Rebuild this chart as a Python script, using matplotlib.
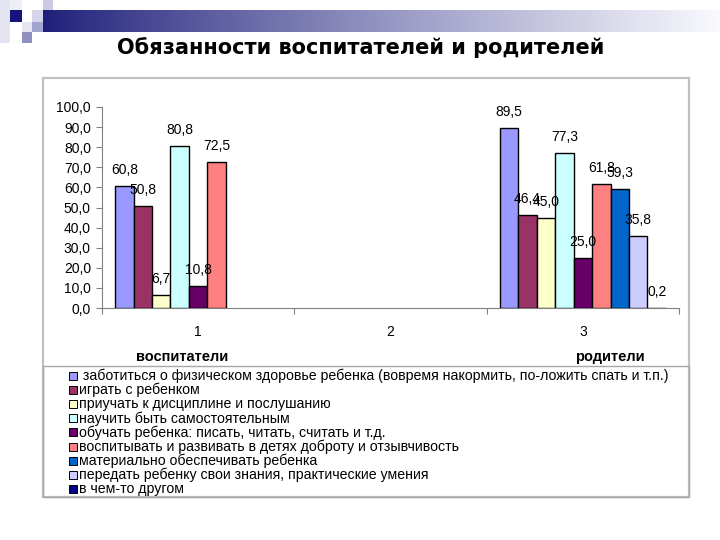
import numpy as np
import matplotlib
matplotlib.use("Agg")
import matplotlib.pyplot as plt
from matplotlib.patches import Rectangle
from matplotlib.ticker import FuncFormatter, FixedLocator

title = "Обязанности воспитателей и родителей"
categories = ["1", "2", "3"]
group_names = ["воспитатели", "родители"]
series_names = [
    " заботиться о физическом здоровье ребенка (вовремя накормить, по-ложить спать и т.п.)",
    "играть с ребенком",
    "приучать к дисциплине и послушанию",
    "научить быть самостоятельным",
    "обучать ребенка: писать, читать, считать и т.д.",
    "воспитывать и развивать в детях доброту и отзывчивость",
    "материально обеспечивать ребенка",
    "передать ребенку свои знания, практические умения",
    "в чем-то другом",
]
nan = np.nan
s1 = [60.8, nan, 89.5]
s2 = [50.8, nan, 46.4]
s3 = [6.7, nan, 45.0]
s4 = [80.8, nan, 77.3]
s5 = [10.8, nan, 25.0]
s6 = [72.5, nan, 61.8]
s7 = [nan, nan, 59.3]
s8 = [nan, nan, 35.8]
s9 = [nan, nan, 0.2]
series_values = [s1, s2, s3, s4, s5, s6, s7, s8, s9]
colors = ["#9999FF", "#993366", "#FFFFCC", "#CCFFFF", "#660066",
          "#FF8080", "#0066CC", "#CCCCFF", "#000080"]

W, H = 720, 540
plt.rcParams['font.family'] = ['Liberation Sans', 'DejaVu Sans']
fig = plt.figure(figsize=(7.2, 5.4), dpi=100)

def fx(px):
    return px / W

def fy(py):
    return 1 - py / H

def frect(x0, y0, x1, y1, **kw):
    fig.patches.append(Rectangle((fx(x0), fy(y1)), fx(x1) - fx(x0), fy(y0) - fy(y1),
                                 transform=fig.transFigure, **kw))

# header decoration
grad_ax = fig.add_axes([fx(43), fy(32), fx(720) - fx(43), fy(10) - fy(32)])
t = np.linspace(0, 1, 400)
c0 = np.array([0.12, 0.12, 0.48])
c1 = np.array([0.98, 0.98, 1.0])
tt = t ** 0.9
grad = (c0[None, :] * (1 - tt[:, None]) + c1[None, :] * tt[:, None])[None, :, :]
grad_ax.imshow(grad, aspect='auto', extent=(0, 1, 0, 1))
grad_ax.axis('off')

frect(0, 0, 10, 43, facecolor="#e4e4f2", edgecolor='none')
frect(10, 0, 22, 10, facecolor="#eeeef7", edgecolor='none')
frect(10, 10, 22, 22, facecolor="#14147a", edgecolor='none')
frect(32, 10, 43, 22, facecolor="#d4d4ea", edgecolor='none')
frect(43, 0, 53, 10, facecolor="#cacae2", edgecolor='none')
frect(22, 22, 32, 32, facecolor="#e6e6f3", edgecolor='none')
frect(32, 22, 43, 32, facecolor="#a4a4d2", edgecolor='none')
frect(22, 32, 32, 43, facecolor="#9090c0", edgecolor='none')

fig.text(fx(361), fy(48), title, ha='center', va='center', fontsize=15,
         fontweight='bold', family=['DejaVu Sans'])

# chart frame
frect(43, 78, 689, 497, facecolor='none', edgecolor='#c0c0c0', linewidth=1.6)
# legend box
frect(43, 366, 689, 497, facecolor='none', edgecolor='#a8a8a8', linewidth=1.0)

ax = fig.add_axes([fx(102), fy(308), fx(679) - fx(102), fy(107) - fy(308)])
n = len(series_values)
bw = 0.096
x = np.arange(1, len(categories) + 1)
for i, (vals, col) in enumerate(zip(series_values, colors)):
    offs = (i - (n - 1) / 2) * bw
    v = np.array(vals, dtype=float)
    ax.bar(x + offs, v, width=bw, color=col, edgecolor='black', linewidth=1.0, zorder=3)
    for xi, vi in zip(x + offs, v):
        if not np.isnan(vi):
            ax.annotate(f"{vi:.1f}".replace('.', ','), (xi, vi), xytext=(0, 16),
                        textcoords='offset pixels', ha='center', va='center',
                        fontsize=10, zorder=4)

ax.set_xlim(0.5, 3.5)
ax.set_ylim(0, 100)
ax.set_yticks(np.arange(0, 101, 10))
ax.yaxis.set_major_formatter(FuncFormatter(lambda v, p: f"{v:.1f}".replace('.', ',')))
ax.set_xticks(x)
ax.set_xticklabels(categories)
ax.xaxis.set_minor_locator(FixedLocator([0.5, 1.5, 2.5, 3.5]))
ax.tick_params(axis='x', which='major', length=0, pad=12, labelsize=10)
ax.tick_params(axis='x', which='minor', length=4, color='#808080', width=0.8)
ax.tick_params(axis='y', length=4, color='#808080', width=0.8, pad=4, labelsize=10)
for s in ['top', 'right']:
    ax.spines[s].set_visible(False)
for s in ['left', 'bottom']:
    ax.spines[s].set_color('#808080')
    ax.spines[s].set_linewidth(0.8)
ax.set_facecolor('none')

fig.text(fx(182), fy(357), group_names[0], ha='center', va='center', fontsize=10.5, fontweight='bold')
fig.text(fx(610), fy(357), group_names[1], ha='center', va='center', fontsize=10.5, fontweight='bold')

# legend
row0 = 376
dy = 14.1
for i, (name, col) in enumerate(zip(series_names, colors)):
    yc = row0 + i * dy
    frect(69, yc - 4, 77, yc + 4, facecolor=col, edgecolor='black', linewidth=0.7)
    fig.text(fx(79), fy(yc), name, ha='left', va='center', fontsize=10.2)

fig.savefig("out.png", dpi=100)
